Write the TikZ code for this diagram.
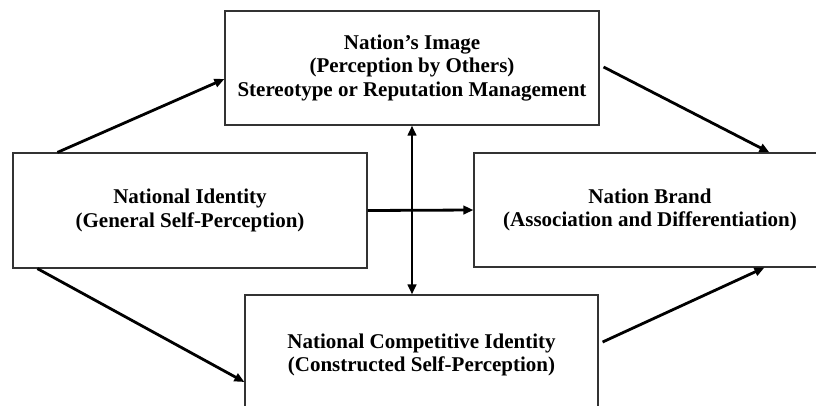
\documentclass[tikz,border=0pt]{standalone}
\usepackage{fontspec}
\setmainfont{Liberation Serif}
\usetikzlibrary{arrows.meta}
\begin{document}
\begin{tikzpicture}[x=1pt,y=-1pt,
  box/.style={draw=black!80,line width=1.2pt,rectangle,inner sep=0pt,align=center,
    font=\fontsize{21}{23.5}\selectfont\bfseries},
  conn/.style={line width=2.8pt,-{Triangle[length=10pt,width=8.5pt]}},
  dconn/.style={line width=2.8pt,{Triangle[length=10pt,width=8.5pt]}-{Triangle[length=10pt,width=8.5pt]}}]
\useasboundingbox (0,0) rectangle (816,405);
\clip (0,0) rectangle (816,405);
\fill[white] (0,0) rectangle (816,405);
\node[box,minimum width=374pt,minimum height=114pt] (ti) at (412,68)
  {Nation’s Image\\(Perception by Others)\\Stereotype or Reputation Management};
\node[box,minimum width=354pt,minimum height=115pt] (li) at (190,210.5)
  {National Identity\\(General Self-Perception)};
\node[box,minimum width=352pt,minimum height=114pt] (nb) at (650,210)
  {Nation Brand\\(Association and Differentiation)};
\node[box,minimum width=353pt,minimum height=120pt] (bc) at (421.5,355)
  {National Competitive Identity\\(Constructed Self-Perception)};
\draw[conn] ([xshift=45pt]li.north west) -- ([yshift=-11pt]ti.west);
\draw[conn] ([xshift=4pt,yshift=1pt]ti.east) -- ([xshift=296pt]nb.north west);
\draw[conn] ([xshift=25pt]li.south west) -- ([yshift=-27pt]bc.west);
\draw[conn] ([xshift=4pt,yshift=13pt]bc.east) -- ([xshift=291pt]nb.south west);
\draw[conn] (li.east) -- (nb.west);
\draw[dconn] (ti.south) -- (ti.south |- bc.north);
\end{tikzpicture}
\end{document}
